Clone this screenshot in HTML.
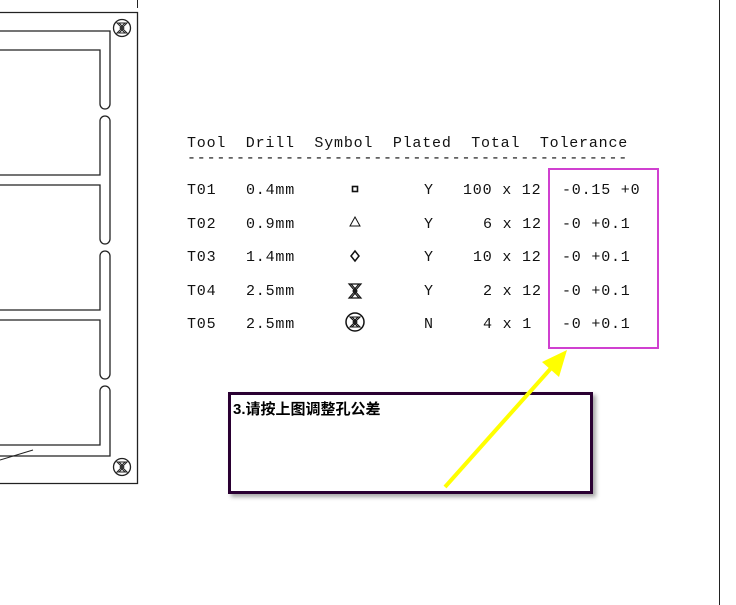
<!DOCTYPE html>
<html><head><meta charset="utf-8"><style>
html,body{margin:0;padding:0;background:#fff;}
svg{display:block}
.t{font-family:"Liberation Mono",monospace;font-size:15px;fill:#111;white-space:pre;}
</style></head><body>
<svg width="736" height="605" viewBox="0 0 736 605" xmlns="http://www.w3.org/2000/svg">
<defs>
<filter id="sh" x="-5%" y="-5%" width="115%" height="125%"><feDropShadow dx="3" dy="3" stdDeviation="2" flood-color="#000" flood-opacity="0.35"/></filter>
</defs>
<line x1="719.5" y1="0" x2="719.5" y2="605" stroke="#222" stroke-width="1"/>
<line x1="137.5" y1="0" x2="137.5" y2="8" stroke="#222"/>
<g fill="none" stroke="#222" stroke-width="1.3">
<polyline points="0,12.5 137.5,12.5 137.5,483.5 0,483.5"/>
<path d="M0,31 H110 V104 A5,5 0 0 1 100,104 V50 H0"/>
<path d="M0,175 H100 V121 A5,5 0 0 1 110,121 V239 A5,5 0 0 1 100,239 V185 H0"/>
<path d="M0,310 H100 V256 A5,5 0 0 1 110,256 V374 A5,5 0 0 1 100,374 V320 H0"/>
<path d="M0,445 H100 V391 A5,5 0 0 1 110,391 V456 H0"/>
<line x1="0" y1="460" x2="33" y2="450" stroke-width="1"/>
<circle cx="122" cy="28" r="8.5"/>
<circle cx="122" cy="467" r="8.5"/>
<path d="M117,23 H127 L117,33 H127 Z M119,23 L124,28 L119,33 M125,23 L120,28 L125,33" stroke-width="1"/>
<path d="M117,462 H127 L117,472 H127 Z M119,462 L124,467 L119,472 M125,462 L120,467 L125,472" stroke-width="1"/>
</g>
<g class="t" style="letter-spacing:0.8px" xml:space="preserve">
<text x="187" y="147" xml:space="preserve">Tool  Drill  Symbol  Plated  Total  Tolerance</text>
<text x="187" y="162" xml:space="preserve">---------------------------------------------</text>
<text x="187" y="194">T01</text><text x="246" y="194">0.4mm</text><text x="424" y="194">Y</text><text x="463" y="194" xml:space="preserve">100 x 12</text><text x="562" y="194" xml:space="preserve">-0.15 +0</text>
<text x="187" y="228">T02</text><text x="246" y="228">0.9mm</text><text x="424" y="228">Y</text><text x="483" y="228" xml:space="preserve">6 x 12</text><text x="562" y="228" xml:space="preserve">-0 +0.1</text>
<text x="187" y="261">T03</text><text x="246" y="261">1.4mm</text><text x="424" y="261">Y</text><text x="473" y="261" xml:space="preserve">10 x 12</text><text x="562" y="261" xml:space="preserve">-0 +0.1</text>
<text x="187" y="295">T04</text><text x="246" y="295">2.5mm</text><text x="424" y="295">Y</text><text x="483" y="295" xml:space="preserve">2 x 12</text><text x="562" y="295" xml:space="preserve">-0 +0.1</text>
<text x="187" y="328">T05</text><text x="246" y="328">2.5mm</text><text x="424" y="328">N</text><text x="483" y="328" xml:space="preserve">4 x 1</text><text x="562" y="328" xml:space="preserve">-0 +0.1</text>
</g>
<g fill="none" stroke="#111">
<rect x="352.5" y="186.5" width="5" height="5" stroke-width="1.6"/>
<path d="M355,217 L360,226 H350 Z" stroke-width="1"/>
<path d="M355,251 L359,256 L355,261 L351,256 Z" stroke-width="1.5"/>
<path d="M349,284 H361 L349,298 H361 Z M351,284 L357,291 L351,298 M359,284 L353,291 L359,298" stroke-width="1.2"/>
<circle cx="355" cy="322" r="9" stroke-width="1.5"/>
<path d="M350,317 H360 L350,327 H360 Z M352,317 L357,322 L352,327 M358,317 L353,322 L358,327" stroke-width="1.1"/>
</g>
<rect x="549" y="169" width="109" height="179" fill="none" stroke="#d040d0" stroke-width="2"/>
<rect x="229.5" y="393.5" width="362" height="99" fill="#fff" stroke="#2a0032" stroke-width="3" filter="url(#sh)"/>
<text x="233" y="414" style="font-family:'Liberation Sans','Noto Sans CJK SC',sans-serif;font-size:15px;font-weight:bold;fill:#000">3.请按上图调整孔公差</text>
<line x1="445" y1="487" x2="553" y2="366" stroke="#ffff00" stroke-width="4"/>
<path d="M567,350 L559,377 L542,362 Z" fill="#ffff00"/>
</svg>
</body></html>
